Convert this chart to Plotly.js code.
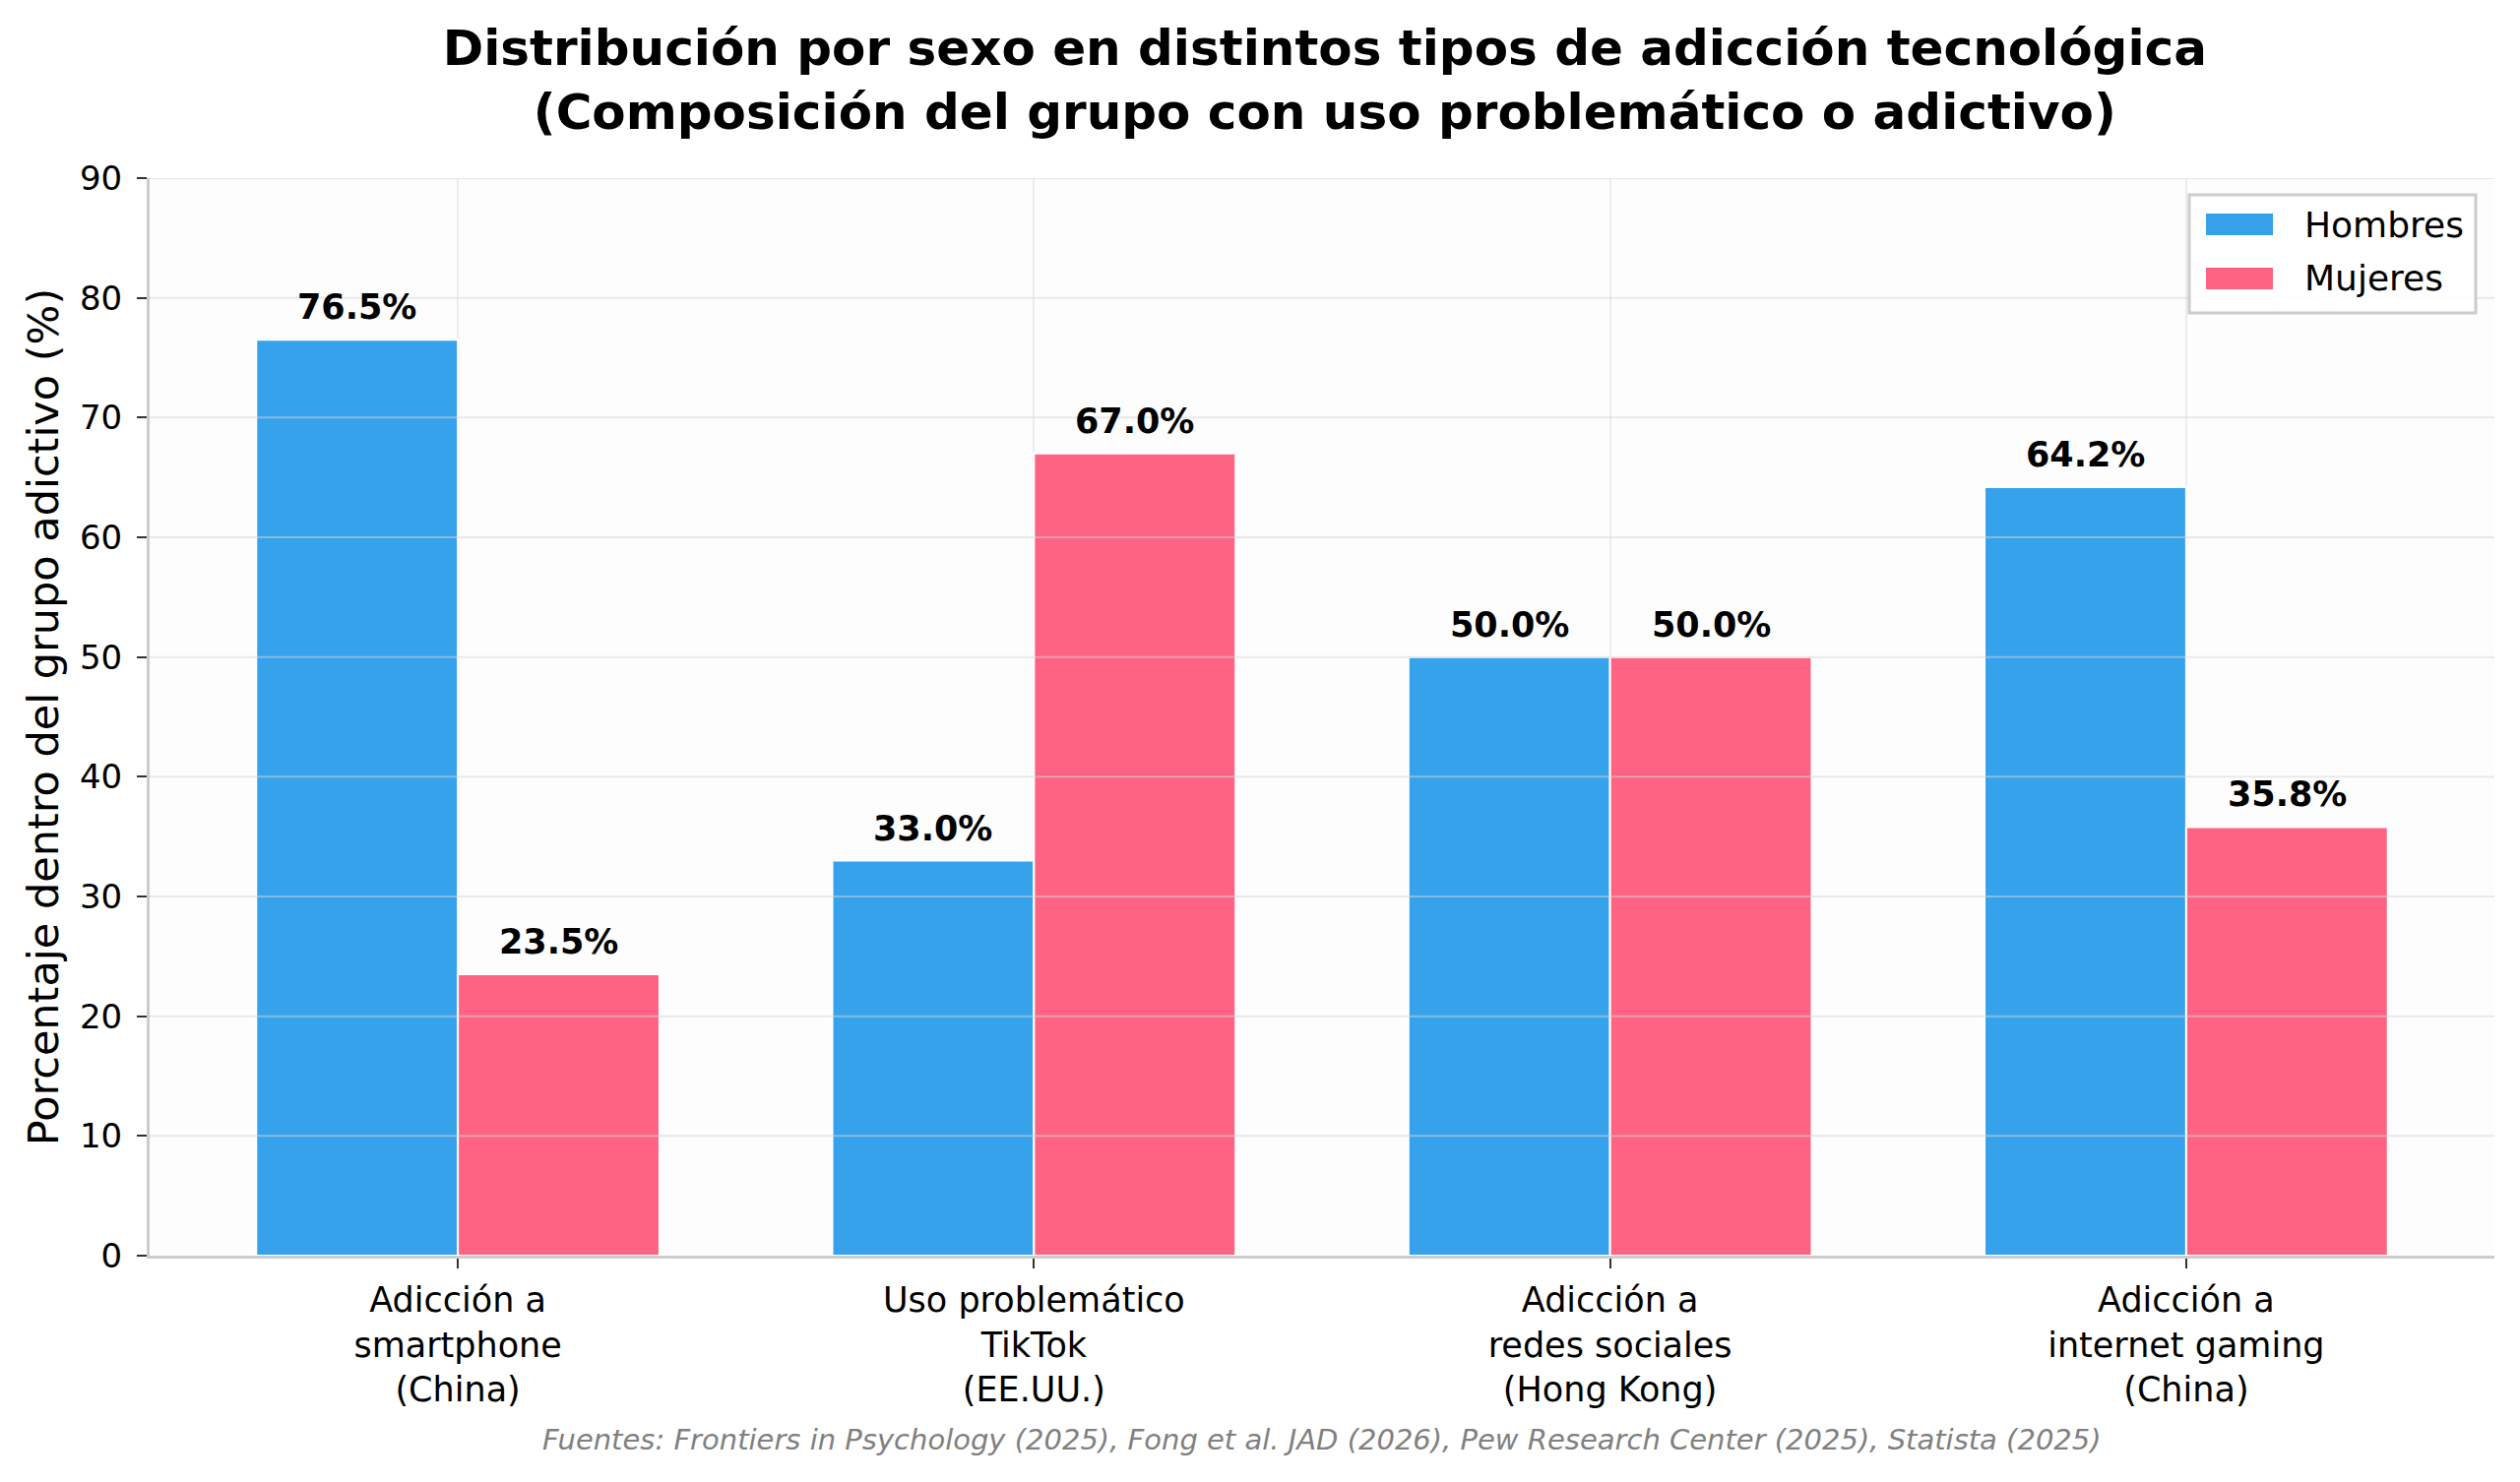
<!DOCTYPE html>
<html>
<head>
<meta charset="utf-8">
<script src="https://cdn.plot.ly/plotly-3.0.1.min.js"></script>
<style>
  html, body { margin: 0; padding: 0; background: #ffffff; }
  #chart { width: 2560px; height: 1506px; }
</style>
</head>
<body>
<div id="chart"></div>
<script>
    // --- DATA ---
    const categories = [
        'Adicción a<br>smartphone<br>(China)',
        'Uso problemático<br>TikTok<br>(EE.UU.)',
        'Adicción a<br>redes sociales<br>(Hong Kong)',
        'Adicción a<br>internet gaming<br>(China)'
    ];
    const seriesNames = ['Hombres', 'Mujeres'];
    const hombres = [76.5, 33.0, 50.0, 64.2];
    const mujeres = [23.5, 67.0, 50.0, 35.8];
    const yTicks = [0, 10, 20, 30, 40, 50, 60, 70, 80, 90];

    // --- STYLE ---
    const colors = {
        blue: '#36A2EB',
        pink: '#FF6384',
        grid: 'rgba(214,214,214,0.5)',
        spine: '#cccccc',
        note: '#808080'
    };
    const FONT = 'DejaVu Sans';
    const barW = 0.35;
    const xIdx = categories.map((c, i) => i);

    // plot box in pixels, used to place the hand-made legend
    const M = { l: 152, r: 26, t: 181, b: 230 };
    const W = 2560, H = 1506;
    const PW = W - M.l - M.r, PH = H - M.t - M.b;
    const px = v => (v - M.l) / PW;
    const py = v => (H - M.b - v) / PH;

    const traceH = {
        type: 'bar',
        name: seriesNames[0],
        x: xIdx,
        y: hombres,
        width: barW,
        offset: -barW,
        marker: { color: colors.blue, line: { color: '#ffffff', width: 2 } },
        hoverinfo: 'skip',
        showlegend: false
    };
    const traceM = {
        type: 'bar',
        name: seriesNames[1],
        x: xIdx,
        y: mujeres,
        width: barW,
        offset: 0,
        marker: { color: colors.pink, line: { color: '#ffffff', width: 2 } },
        hoverinfo: 'skip',
        showlegend: false
    };

    // value labels above each bar
    const labelFont = { family: FONT, size: 35, color: '#000000' };
    const annotations = [];
    hombres.forEach(function(v, i) {
        annotations.push({
            x: i - barW / 2, y: v, xref: 'x', yref: 'y',
            text: '<b>' + v.toFixed(1) + '%</b>',
            showarrow: false, yanchor: 'bottom', yshift: 11,
            font: labelFont
        });
    });
    mujeres.forEach(function(v, i) {
        annotations.push({
            x: i + barW / 2, y: v, xref: 'x', yref: 'y',
            text: '<b>' + v.toFixed(1) + '%</b>',
            showarrow: false, yanchor: 'bottom', yshift: 11,
            font: labelFont
        });
    });
    // source note
    annotations.push({
        x: 0.5, y: py(1463), xref: 'paper', yref: 'paper',
        text: '<i>Fuentes: Frontiers in Psychology (2025), Fong et al. JAD (2026), Pew Research Center (2025), Statista (2025)</i>',
        showarrow: false, xanchor: 'center', yanchor: 'middle',
        font: { family: FONT, size: 29, color: colors.note }
    });

    // horizontal grid drawn over the bars (like the original)
    const shapes = yTicks.filter(t => t > 0).map(function(t) {
        return {
            type: 'line', xref: 'paper', yref: 'y',
            x0: 0, x1: 1, y0: t, y1: t,
            line: { color: colors.grid, width: 2 },
            layer: 'above'
        };
    });

    // legend (box, swatches, labels)
    shapes.push({
        type: 'rect', xref: 'paper', yref: 'paper',
        x0: px(2224), x1: px(2515), y0: py(198), y1: py(318),
        fillcolor: 'rgba(255,255,255,0.85)',
        line: { color: '#cccccc', width: 3 },
        layer: 'above'
    });
    const legendRows = [228, 283];
    const legendColors = [colors.blue, colors.pink];
    seriesNames.forEach(function(name, k) {
        const cy = legendRows[k];
        shapes.push({
            type: 'rect', xref: 'paper', yref: 'paper',
            x0: px(2241), x1: px(2309), y0: py(cy - 11), y1: py(cy + 11),
            fillcolor: legendColors[k], line: { width: 0 },
            layer: 'above'
        });
        annotations.push({
            x: px(2339), y: py(cy), xref: 'paper', yref: 'paper',
            text: name, showarrow: false, xanchor: 'left', yanchor: 'middle',
            font: { family: FONT, size: 36, color: '#000000' }
        });
    });

    const layout = {
        width: W,
        height: H,
        margin: M,
        paper_bgcolor: '#ffffff',
        plot_bgcolor: '#fdfdfd',
        font: { family: FONT, size: 35, color: '#000000' },
        title: {
            text: '<b>Distribución por sexo en distintos tipos de adicción tecnológica<br>(Composición del grupo con uso problemático o adictivo)</b>',
            font: { family: FONT, size: 50, color: '#000000' },
            x: 0.5257, xanchor: 'center',
            y: 0.956, yanchor: 'top', yref: 'container'
        },
        barmode: 'overlay',
        showlegend: false,
        xaxis: {
            range: [-0.535, 3.535],
            tickmode: 'array',
            tickvals: xIdx,
            ticktext: categories,
            ticks: 'outside', ticklen: 10, tickwidth: 2, tickcolor: '#333333',
            ticklabelstandoff: 2,
            showgrid: true, gridcolor: '#ececec', gridwidth: 2,
            showline: true, linecolor: colors.spine, linewidth: 3,
            zeroline: false,
            tickfont: { family: FONT, size: 35, color: '#000000' }
        },
        yaxis: {
            range: [0, 90],
            tickmode: 'array',
            tickvals: yTicks,
            ticks: 'outside', ticklen: 10, tickwidth: 2, tickcolor: '#333333',
            ticklabelstandoff: 8,
            showgrid: false,
            showline: true, linecolor: colors.spine, linewidth: 3,
            zeroline: false,
            tickfont: { family: FONT, size: 34, color: '#000000' },
            title: {
                text: 'Porcentaje dentro del grupo adictivo (%)',
                font: { family: FONT, size: 43, color: '#000000' },
                standoff: 8
            }
        },
        annotations: annotations,
        shapes: shapes
    };

    Plotly.newPlot('chart', [traceH, traceM], layout, { displayModeBar: false, staticPlot: true });
</script>
</body>
</html>
